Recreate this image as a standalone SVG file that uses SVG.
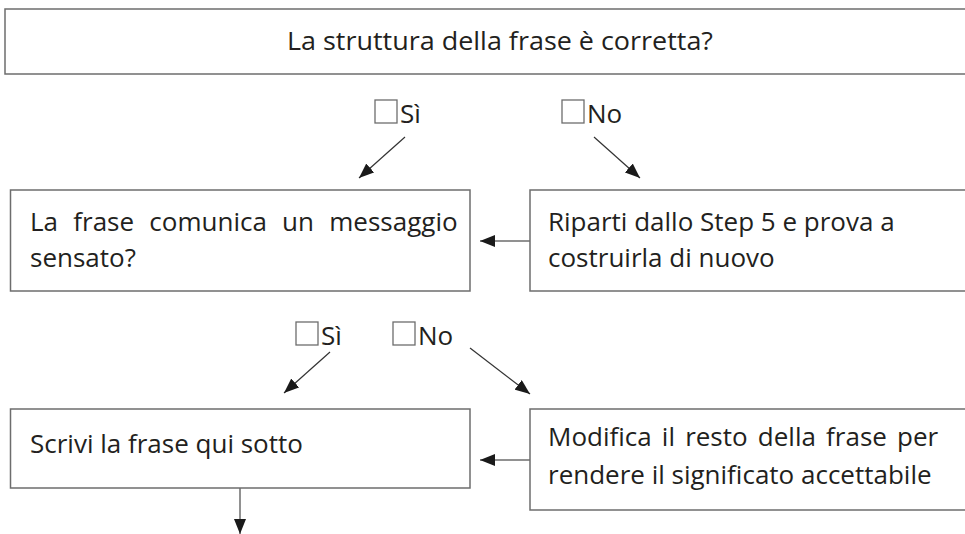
<svg xmlns="http://www.w3.org/2000/svg" width="965" height="534" viewBox="0 0 965 534">
<defs>
<style>
.box{fill:#fff;stroke:#6d6d6d;stroke-width:1.5}
.cb{fill:#fff;stroke:#6d6d6d;stroke-width:1.3}
.t{font-family:"Open Sans","Noto Sans","Liberation Sans",sans-serif;font-size:26px;fill:#231f20}
.tt{font-family:"Open Sans","Liberation Sans",sans-serif;font-size:26px;fill:#231f20}
.c{stroke:#333;stroke-width:1.2;fill:none;marker-end:url(#ah)}
.c2{stroke:#6d6d6d;stroke-width:1.5;fill:none;marker-end:url(#ah)}
</style>
<marker id="ah" markerUnits="userSpaceOnUse" markerWidth="16" markerHeight="12" refX="15" refY="6" orient="auto">
<path d="M0,0 L15,6 L0,12 Z" fill="#1a1a1a"/>
</marker>
</defs>
<rect width="965" height="534" fill="#fff"/>
<g id="q1">
<rect class="box" x="5" y="9" width="962" height="65"/>
<text class="tt" x="287" y="50" textLength="426" lengthAdjust="spacingAndGlyphs">La struttura della frase è corretta?</text>
</g>
<g id="choice1">
<rect class="cb" x="375" y="100" width="22" height="23"/>
<text class="t" x="400" y="123">Sì</text>
<rect class="cb" x="562" y="100" width="22" height="23"/>
<text class="t" x="587" y="123">No</text>
</g>
<g id="q2">
<rect class="box" x="10.5" y="190" width="459.5" height="101"/>
<text class="t" x="30" y="231" word-spacing="8.5">La frase comunica un messaggio</text>
<text class="t" x="30" y="267">sensato?</text>
</g>
<g id="retry">
<rect class="box" x="530" y="190" width="437" height="101"/>
<text class="t" x="548" y="231">Riparti dallo Step 5 e prova a</text>
<text class="t" x="548" y="267">costruirla di nuovo</text>
</g>
<g id="choice2">
<rect class="cb" x="296" y="322" width="22" height="23"/>
<text class="t" x="321" y="345">Sì</text>
<rect class="cb" x="393" y="322" width="22" height="23"/>
<text class="t" x="418" y="345">No</text>
</g>
<g id="write">
<rect class="box" x="10.5" y="409" width="459.5" height="79"/>
<text class="t" x="30" y="453">Scrivi la frase qui sotto</text>
</g>
<g id="modify">
<rect class="box" x="530" y="409" width="437" height="101"/>
<text class="t" x="548" y="446" word-spacing="3.4">Modifica il resto della frase per</text>
<text class="t" x="548" y="484">rendere il significato accettabile</text>
</g>
<g id="connectors">
<line class="c" x1="405" y1="137" x2="359" y2="178"/>
<line class="c" x1="594" y1="137" x2="640" y2="178"/>
<line class="c2" x1="530" y1="241" x2="480" y2="241"/>
<line class="c" x1="330" y1="352" x2="284" y2="393"/>
<line class="c" x1="470" y1="348" x2="530" y2="394"/>
<line class="c2" x1="530" y1="460" x2="480" y2="460"/>
<line class="c2" x1="240" y1="488" x2="240" y2="534"/>
</g>
</svg>
